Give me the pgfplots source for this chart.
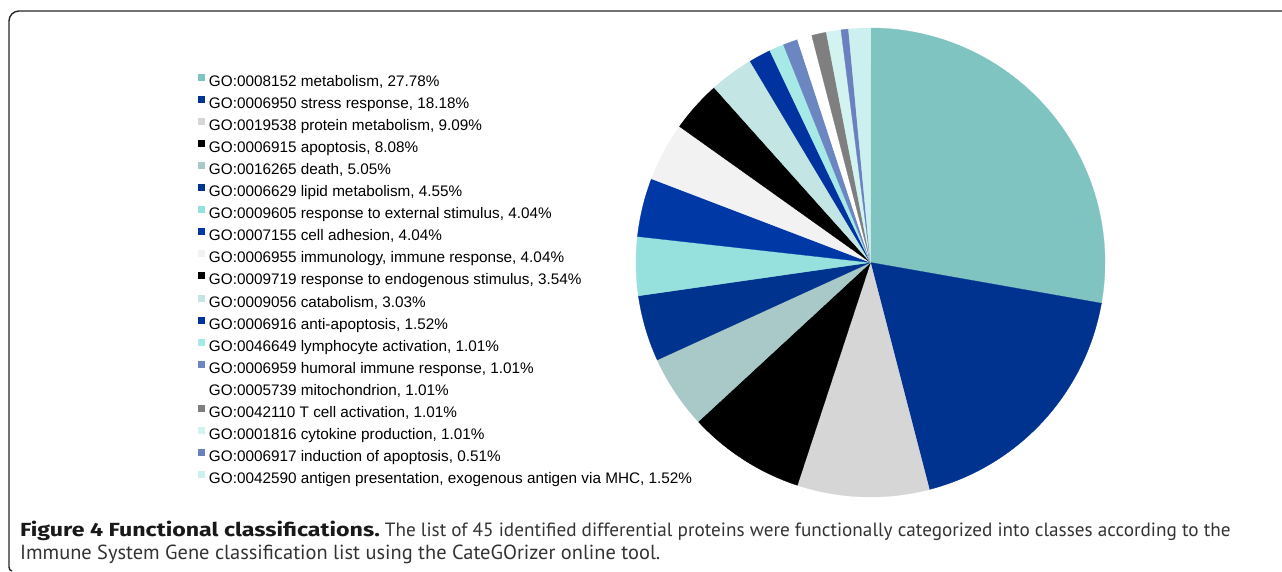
\documentclass[border=0pt]{standalone}
\usepackage{pgfplots}
\usepackage{pgfplotstable}
\pgfplotsset{compat=1.18}
\usepackage{fontspec}
\setmainfont{Liberation Sans}
\newfontfamily\capfont{PT Sans}
\newfontfamily\capbold{Fira Sans Bold}
\definecolor{c1}{HTML}{7FC4C0}
\definecolor{c2}{HTML}{003290}
\definecolor{c3}{HTML}{D6D6D6}
\definecolor{c4}{HTML}{000000}
\definecolor{c5}{HTML}{A9C9C8}
\definecolor{c6}{HTML}{00338D}
\definecolor{c7}{HTML}{96E1DD}
\definecolor{c8}{HTML}{0038A6}
\definecolor{c9}{HTML}{F2F2F2}
\definecolor{c10}{HTML}{000000}
\definecolor{c11}{HTML}{C3E6E4}
\definecolor{c12}{HTML}{0033A0}
\definecolor{c13}{HTML}{A6E9E6}
\definecolor{c14}{HTML}{6C86C2}
\definecolor{c15}{HTML}{FFFFFF}
\definecolor{c16}{HTML}{7F7F7F}
\definecolor{c17}{HTML}{D3F3F1}
\definecolor{c18}{HTML}{6A80BF}
\definecolor{c19}{HTML}{CCF0F0}
\pgfplotstableread{
pct col
27.78 c1
18.18 c2
9.09 c3
8.08 c4
5.05 c5
4.55 c6
4.04 c7
4.04 c8
4.04 c9
3.54 c10
3.03 c11
1.52 c12
1.01 c13
1.01 c14
1.01 c15
1.01 c16
1.01 c17
0.51 c18
1.52 c19
}\piedata
\begin{document}
\begin{tikzpicture}
\useasboundingbox (0pt,0pt) rectangle (1282pt,571pt);
\draw[line width=1.4pt, color=black!85] (1290pt,560pt) -- (19pt,560pt) arc[start angle=90,end angle=180,radius=10pt] -- (9pt,4pt) to[out=-90,in=180] (12pt,0pt);
\begin{axis}[at={(870.5pt,308.5pt)}, anchor=center, scale only axis,
  width=469pt, height=469pt, xmin=-1, xmax=1, ymin=-1, ymax=1,
  hide axis, clip=false,
  sqleg/.style={legend image code/.code={\fill[##1, draw=none] (0pt,1.5pt) rectangle (7.5pt,8.5pt);}},
  legend cell align=left,
  legend style={at={(axis description cs:-0.934,0.9019)}, anchor=north west,
    draw=none, fill=none, inner sep=0pt, outer sep=0pt, row sep=6.55pt, column sep=3.5pt,
    font=\fontsize{15.3}{18}\selectfont,
    nodes={inner sep=0pt, text height=11pt, text depth=3pt}},
]
\pgfplotstablegetrowsof{\piedata}
\pgfmathtruncatemacro{\nrows}{\pgfplotsretval-1}
\xdef\curang{90}
\pgfplotsforeachungrouped \i in {0,...,\nrows} {%
  \pgfplotstablegetelem{\i}{pct}\of\piedata \let\slicepct\pgfplotsretval
  \pgfplotstablegetelem{\i}{col}\of\piedata \let\slicecol\pgfplotsretval
  \pgfmathsetmacro{\endang}{\curang-3.6*\slicepct}%
  \edef\slice{\noexpand\fill[fill=\slicecol, draw=\slicecol, line width=0.3pt] (axis cs:0,0) -- (axis cs:{cos(\curang)},{sin(\curang)}) arc[start angle=\curang, end angle=\endang, radius=1] -- cycle;}%
  \slice
  \xdef\curang{\endang}%
}
\addlegendimage{sqleg, fill=c1}\addlegendentry{GO:0008152 metabolism, 27.78\%}
\addlegendimage{sqleg, fill=c2}\addlegendentry{GO:0006950 stress response, 18.18\%}
\addlegendimage{sqleg, fill=c3}\addlegendentry{GO:0019538 protein metabolism, 9.09\%}
\addlegendimage{sqleg, fill=c4}\addlegendentry{GO:0006915 apoptosis, 8.08\%}
\addlegendimage{sqleg, fill=c5}\addlegendentry{GO:0016265 death, 5.05\%}
\addlegendimage{sqleg, fill=c6}\addlegendentry{GO:0006629 lipid metabolism, 4.55\%}
\addlegendimage{sqleg, fill=c7}\addlegendentry{GO:0009605 response to external stimulus, 4.04\%}
\addlegendimage{sqleg, fill=c8}\addlegendentry{GO:0007155 cell adhesion, 4.04\%}
\addlegendimage{sqleg, fill=c9}\addlegendentry{GO:0006955 immunology, immune response, 4.04\%}
\addlegendimage{sqleg, fill=c10}\addlegendentry{GO:0009719 response to endogenous stimulus, 3.54\%}
\addlegendimage{sqleg, fill=c11}\addlegendentry{GO:0009056 catabolism, 3.03\%}
\addlegendimage{sqleg, fill=c12}\addlegendentry{GO:0006916 anti-apoptosis, 1.52\%}
\addlegendimage{sqleg, fill=c13}\addlegendentry{GO:0046649 lymphocyte activation, 1.01\%}
\addlegendimage{sqleg, fill=c14}\addlegendentry{GO:0006959 humoral immune response, 1.01\%}
\addlegendimage{sqleg, fill=c15}\addlegendentry{GO:0005739 mitochondrion, 1.01\%}
\addlegendimage{sqleg, fill=c16}\addlegendentry{GO:0042110 T cell activation, 1.01\%}
\addlegendimage{sqleg, fill=c17}\addlegendentry{GO:0001816 cytokine production, 1.01\%}
\addlegendimage{sqleg, fill=c18}\addlegendentry{GO:0006917 induction of apoptosis, 0.51\%}
\addlegendimage{sqleg, fill=c19}\addlegendentry{GO:0042590 antigen presentation, exogenous antigen via MHC, 1.52\%}
\end{axis}
\node[anchor=base west, inner sep=0pt, font=\capfont\fontsize{19.2}{23}\selectfont, text=black!80] at (20pt,35pt) {{\capbold\fontsize{19}{23}\selectfont\color{black!90}\scalebox{1.22}[1]{Figure 4 Functional classifications.}} The list of 45 identified differential proteins were functionally categorized into classes according to the};
\node[anchor=base west, inner sep=0pt, font=\capfont\fontsize{20.4}{23}\selectfont, text=black!80] at (20pt,12pt) {Immune System Gene classification list using the CateGOrizer online tool.};
\end{tikzpicture}
\end{document}
